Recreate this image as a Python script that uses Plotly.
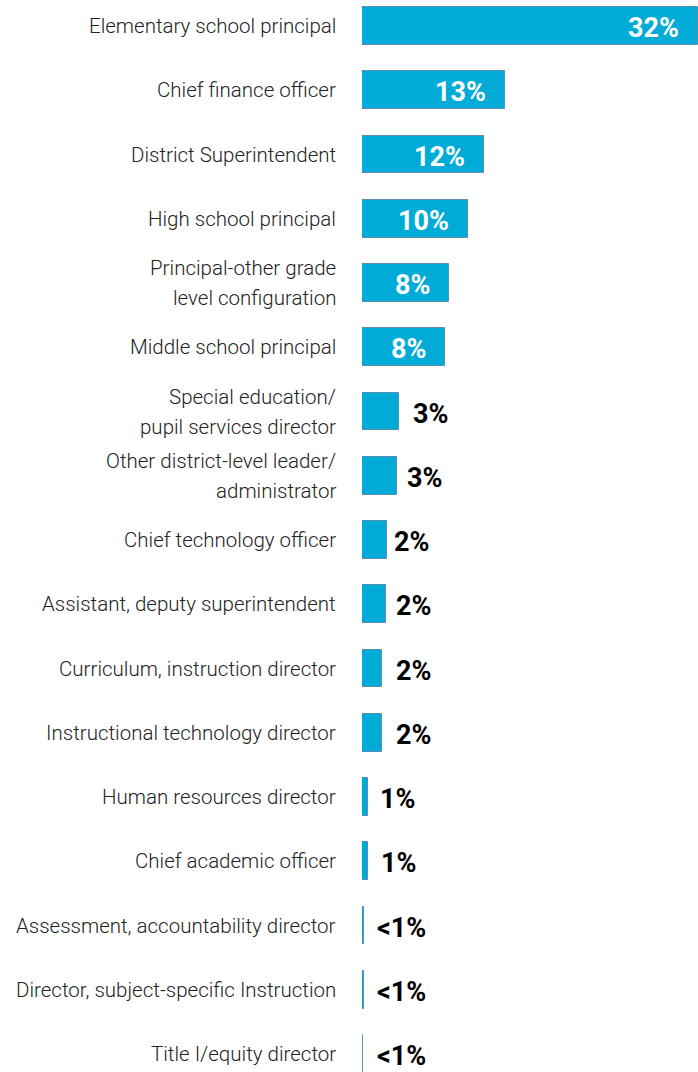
import plotly.graph_objects as go

categories = [
    "Elementary school principal",
    "Chief finance officer",
    "District Superintendent",
    "High school principal",
    "Principal-other grade<br>level configuration",
    "Middle school principal",
    "Special education/<br>pupil services director",
    "Other district-level leader/<br>administrator",
    "Chief technology officer",
    "Assistant, deputy superintendent",
    "Curriculum, instruction director",
    "Instructional technology director",
    "Human resources director",
    "Chief academic officer",
    "Assessment, accountability director",
    "Director, subject-specific Instruction",
    "Title I/equity director",
]
values = [32.0, 13.6, 11.6, 10.1, 8.3, 7.9, 3.5, 3.3, 2.4, 2.3, 1.9, 1.9, 0.55, 0.55, 0.22, 0.22, 0.07]
value_labels = ["32%", "13%", "12%", "10%", "8%", "8%", "3%", "3%", "2%", "2%", "2%", "2%",
                "1%", "1%", "<1%", "<1%", "<1%"]
outside_gap = [0, 0, 0, 0, 0, 0, 12, 8, 5, 8, 12, 12, 10, 11, 11, 11, 12]

BAR = "#00acd7"
EDGE = "#5b8fb3"

fig = go.Figure()
fig.add_trace(go.Bar(
    x=values, y=categories, orientation="h",
    marker=dict(color=BAR, line=dict(color=EDGE, width=1)),
    width=0.59, hoverinfo="skip",
))

ann = []
for cat, v, lab, gap in zip(categories, values, value_labels, outside_gap):
    inside = v >= 5
    ann.append(dict(
        x=v, y=cat, xref="x", yref="y", text=f"<b>{lab}</b>", showarrow=False,
        xanchor="right" if inside else "left",
        xshift=-17 if inside else gap, yshift=-2,
        font=dict(family="Roboto", size=27, color="white" if inside else "black"),
    ))
    lines = cat.split("<br>")
    n = len(lines)
    for i, line in enumerate(lines):
        ann.append(dict(
            x=0, y=cat, xref="paper", yref="y", text=line, showarrow=False,
            xanchor="right", yanchor="middle", align="center", xshift=-24,
            yshift=(n - 1) * 15 - i * 30,
            font=dict(family="Roboto", size=20.5, color="#222222", weight=300),
        ))

fig.update_layout(
    width=698, height=1072,
    margin=dict(l=362, r=0, t=0, b=0),
    paper_bgcolor="white", plot_bgcolor="white",
    showlegend=False,
    bargap=0,
    xaxis=dict(range=[0, 32], visible=False, fixedrange=True),
    yaxis=dict(range=[16.28, -0.405], visible=False, fixedrange=True,
               categoryorder="array", categoryarray=categories),
    annotations=ann,
)
fig.write_html("out.html", config={"displayModeBar": False},
               post_script="document.body.style.margin='0';document.body.style.overflow='hidden';")
